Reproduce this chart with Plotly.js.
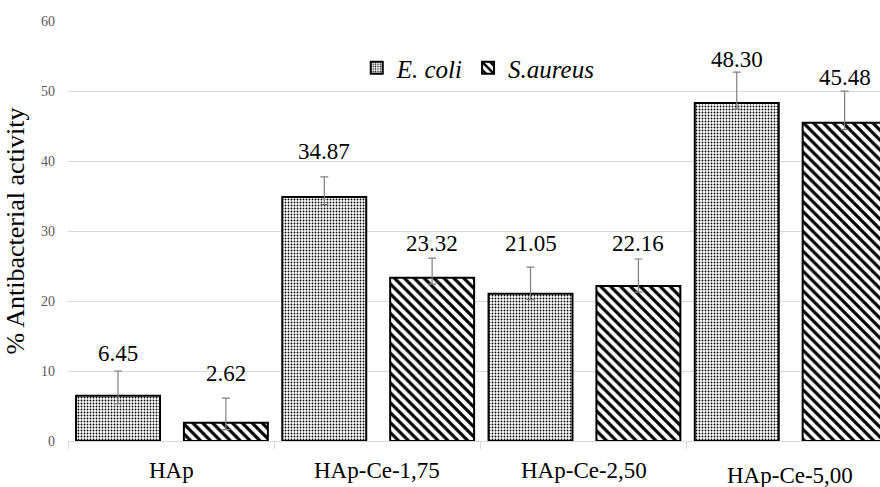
<!DOCTYPE html>
<html>
<head>
<meta charset="utf-8">
<script src="https://cdn.plot.ly/plotly-3.0.1.min.js"></script>
</head>
<body style="margin:0">
<div style="width:880px;height:487px;overflow:hidden">
<div id="chart" style="width:900px;height:487px"></div>
</div>
<script>
// Samples and measured antibacterial activity (%)
const categories = ['HAp', 'HAp-Ce-1,75', 'HAp-Ce-2,50', 'HAp-Ce-5,00'];
const ecoli = [6.45, 34.87, 21.05, 48.30];
const saureus = [2.62, 23.32, 22.16, 45.48];
// Error bar extents (upper / lower)
const ecoliErrUp = [3.55, 2.85, 3.80, 4.40];
const ecoliErrDown = [1.1, 1.1, 0.85, 0.9];
const saureusErrUp = [3.50, 2.80, 3.84, 4.50];
const saureusErrDown = [1.0, 0.9, 0.9, 1.0];
const yTicks = [0, 10, 20, 30, 40, 50, 60];

const serifFamily = 'Liberation Serif';
const barW = 0.407;
const offE = -0.461, offS = 0.062;

const errStyle = { type: 'data', symmetric: false, color: '#7f7f7f', thickness: 1.2, width: 4 };

const traces = [
  {
    type: 'bar', name: 'E. coli', x: categories, y: ecoli,
    width: barW, offset: offE,
    marker: {
      color: '#ffffff',
      line: { color: '#000', width: 2 },
      pattern: { shape: '.', size: 3, solidity: 0.3, fgcolor: '#000', bgcolor: '#fff' }
    },
    error_y: Object.assign({ array: ecoliErrUp, arrayminus: ecoliErrDown }, errStyle),
    hoverinfo: 'none'
  },
  {
    type: 'bar', name: 'S.aureus', x: categories, y: saureus,
    width: barW, offset: offS,
    marker: {
      color: '#ffffff',
      line: { color: '#000', width: 2 },
      pattern: { shape: '\\', size: 7, solidity: 0.45, fgcolor: '#000', bgcolor: '#fff' }
    },
    error_y: Object.assign({ array: saureusErrUp, arrayminus: saureusErrDown }, errStyle),
    hoverinfo: 'none'
  }
];

// Value labels sit above each error bar cap
const labelLift = [[18, 25], [25, 15], [24, 16], [13, 14]];
const annotations = [];
categories.forEach((c, i) => {
  [[ecoli, ecoliErrUp, offE], [saureus, saureusErrUp, offS]].forEach(([vals, up, off], k) => {
    annotations.push({
      xref: 'x', yref: 'y', x: i + off + barW / 2, y: vals[i] + up[i],
      text: vals[i].toFixed(2), showarrow: false, yanchor: 'middle',
      yshift: labelLift[i][k],
      font: { family: serifFamily, size: 23 }
    });
  });
  // category names under the axis
  annotations.push({
    xref: 'x', yref: 'paper', x: i, y: 0, text: c, showarrow: false,
    yanchor: 'middle', yshift: i === 3 ? -34 : -29,
    font: { family: serifFamily, size: 23 }
  });
});

const layout = {
  width: 900, height: 487,
  margin: { l: 68, r: 7, t: 21, b: 46 },
  paper_bgcolor: '#fff', plot_bgcolor: '#fff',
  font: { family: serifFamily, color: '#000' },
  barmode: 'overlay',
  showlegend: true,
  legend: {
    orientation: 'h', x: 0.35, xanchor: 'left', y: 0.888, yanchor: 'middle',
    bgcolor: 'rgba(0,0,0,0)',
    font: { family: serifFamily, size: 25, style: 'italic' },
    itemwidth: 30
  },
  xaxis: {
    type: 'category', range: [-0.5, 3.5],
    showticklabels: false, showgrid: false, zeroline: false,
    showline: true, linecolor: '#d9d9d9', linewidth: 1,
    ticks: 'outside', tickson: 'boundaries', ticklen: 7, tickcolor: '#d9d9d9'
  },
  yaxis: {
    range: [0, 60], tickvals: yTicks, ticktext: yTicks.map(String),
    showgrid: true, gridcolor: '#d9d9d9', gridwidth: 1,
    zeroline: false, showline: false, ticks: '',
    ticklabelstandoff: 12,
    tickfont: { family: serifFamily, size: 14, color: '#595959' },
    title: { text: '% Antibacterial activity', standoff: 8,
             font: { family: serifFamily, size: 26 } }
  },
  annotations: annotations
};

Plotly.newPlot('chart', traces, layout, { displayModeBar: false });
</script>
</body>
</html>
